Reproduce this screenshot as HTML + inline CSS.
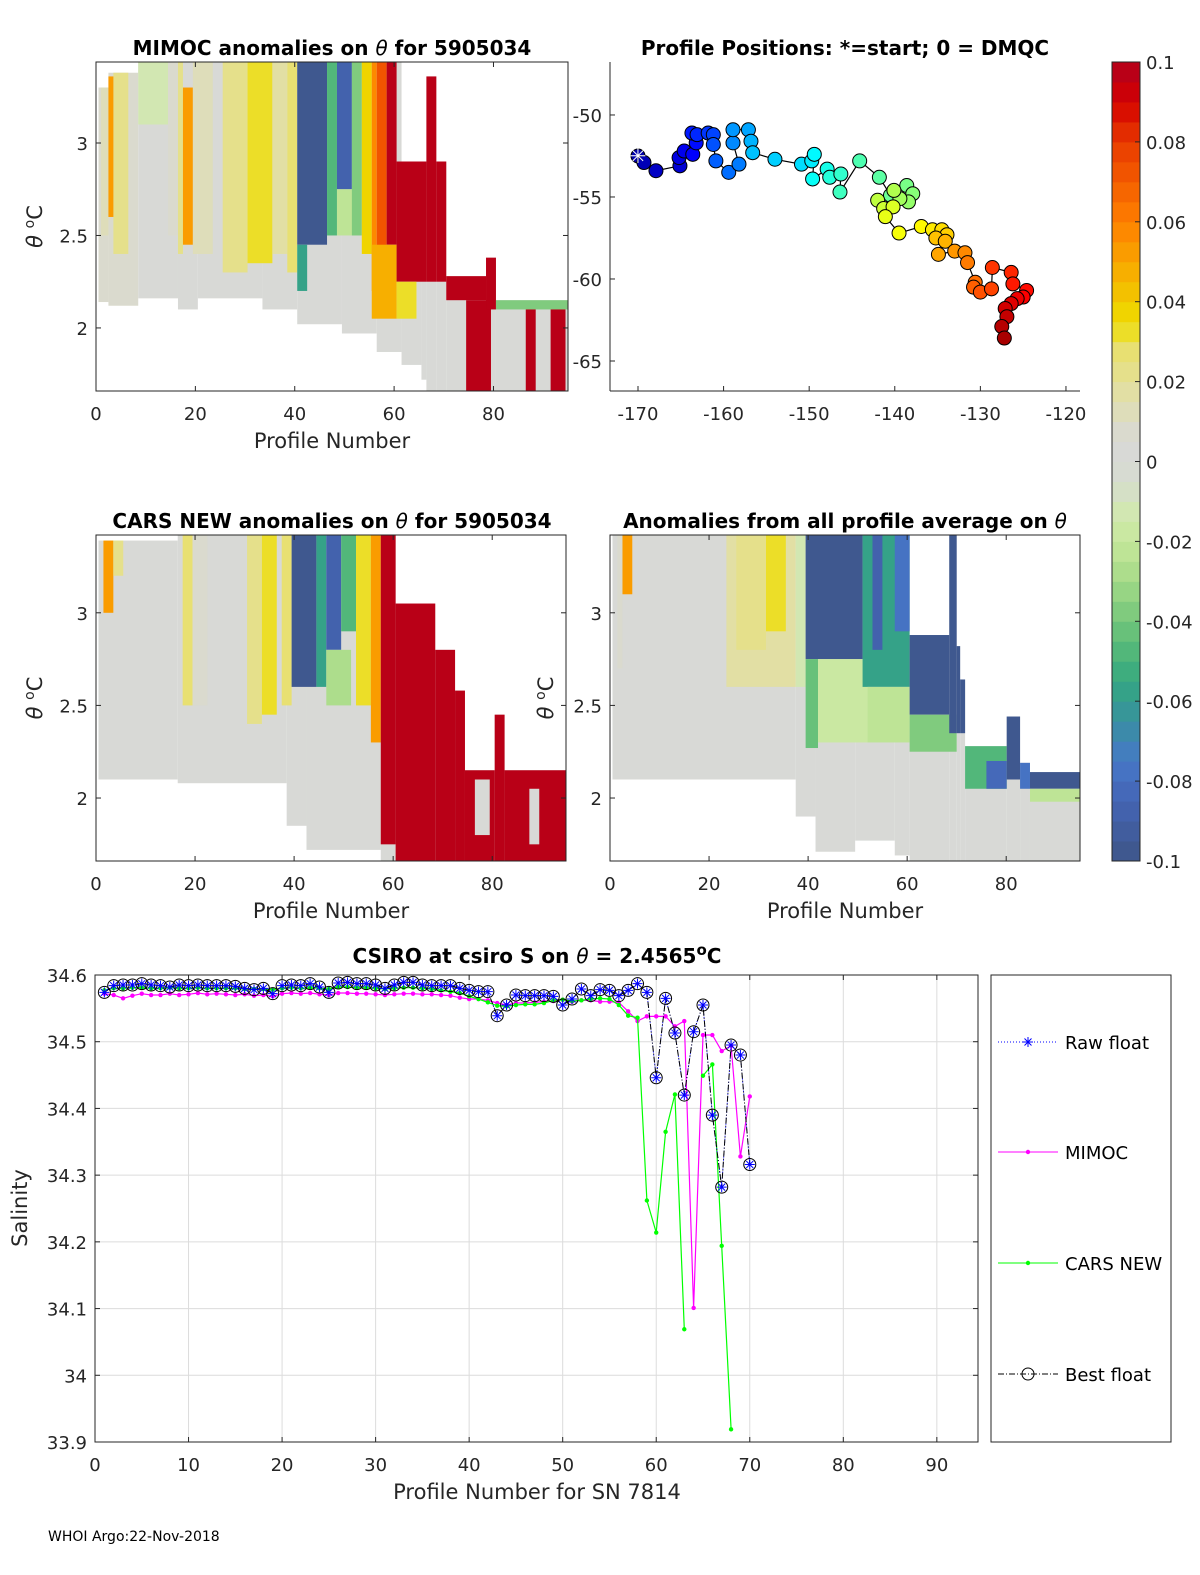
<!DOCTYPE html>
<html><head><meta charset="utf-8"><style>
html,body{margin:0;padding:0;background:#fff;}
svg{display:block;font-family:"DejaVu Sans","Liberation Sans",sans-serif;}
</style></head><body>
<svg id="fig" width="1200" height="1575" viewBox="0 0 1200 1575" xmlns="http://www.w3.org/2000/svg">
<rect width="1200" height="1575" fill="#fff"/>
<g id="p1"></g>
<g id="p2"></g>
<g id="p3"></g>
<g id="p4"></g>
<g id="cb"></g>
<g id="p5"></g>
<text x="48" y="1541" font-size="14" fill="#000">WHOI Argo:22-Nov-2018</text>
</svg>
<script>
// ---------- data ----------
// heatmap blocks: [profileStart, profileEnd, thetaTop, thetaBottom, anomaly]
const mimocBlocks = [
[0.5,2.5,3.3,2.14,0.005],[2.5,8.5,3.38,2.12,0.005],[8.5,16.5,3.44,2.16,0],[16.5,20.5,3.44,2.10,0],
[20.5,33.5,3.44,2.16,0],[33.5,40.5,3.44,2.10,0],[40.5,49.5,3.44,2.02,0],[49.5,56.5,3.44,1.97,0],
[56.5,61.5,3.44,1.87,0],[61.5,65.5,2.9,1.8,0],[65.5,66.5,2.9,1.72,0],[66.5,68.5,3.36,1.66,0],
[68.5,70.5,2.9,1.66,0],[70.5,78.5,2.28,1.66,0],[78.5,80.5,2.38,1.66,0],[80.5,95,2.15,1.66,0],
[1,2.5,3.3,2.5,0.012],[3.5,6.5,3.38,2.4,0.02],[2.5,3.5,3.36,2.6,0.055],[8.5,14.5,3.44,3.1,-0.012],
[14.5,16.5,3.44,2.5,0.005],[16.5,17.5,3.44,2.4,0.02],[17.5,19.5,3.3,2.45,0.05],[19.5,23.5,3.44,2.4,0.012],
[25.5,30.5,3.44,2.3,0.02],[30.5,35.5,3.44,2.35,0.03],[35.5,38.5,3.44,2.4,0.018],[38.5,40.5,3.44,2.3,0.028],
[40.5,46.5,3.44,2.45,-0.1],[40.5,42.5,2.45,2.2,-0.06],[46.5,48.5,3.44,2.5,-0.05],[48.5,51.5,3.44,2.75,-0.09],
[48.5,52.5,2.75,2.5,-0.02],[51.5,53.5,3.44,2.5,-0.04],[53.5,55.5,3.44,2.4,0.035],[55.5,56.5,3.44,2.2,0.06],
[56.5,58.5,3.44,2.3,0.07],[58.5,60.5,3.44,2.45,0.1],[55.5,60.5,2.45,2.05,0.045],[60.5,66.5,2.9,2.25,0.1],
[66.5,68.5,3.36,2.25,0.1],[68.5,70.5,2.9,2.25,0.1],[60.5,64.5,2.25,2.05,0.03],[70.5,78.5,2.28,2.15,0.1],
[74.5,79.5,2.15,1.66,0.1],[78.5,80.5,2.38,2.1,0.1],[80.5,95,2.15,2.1,-0.04],[86.5,88.5,2.1,1.66,0.1],
[91.5,94.5,2.1,1.66,0.1]
];
const carsBlocks = [
[0.5,16.5,3.39,2.1,0.003],[16.5,38.5,3.42,2.08,0.003],[38.5,42.5,3.42,1.85,0],[42.5,57.5,3.42,1.72,0],
[57.5,60.5,3.42,1.66,0],[60.5,68.5,3.05,1.66,0],[68.5,72.5,2.8,1.66,0],[72.5,74.5,2.58,1.66,0],
[74.5,80.5,2.15,1.66,0],[80.5,82.5,2.45,1.66,0],[82.5,95,2.15,1.66,0],
[1.5,3.5,3.39,3.0,0.05],[3.5,5.5,3.39,3.2,0.02],[17.5,19.5,3.42,2.5,0.025],[19.5,22.5,3.42,2.5,0.01],
[30.5,33.5,3.42,2.4,0.02],[33.5,36.5,3.42,2.45,0.03],[37.5,39.5,3.42,2.5,0.025],[39.5,44.5,3.42,2.6,-0.1],
[44.5,46.5,3.42,2.6,-0.06],[46.5,49.5,3.42,2.8,-0.09],[46.5,51.5,2.8,2.5,-0.03],[49.5,52.5,3.42,2.9,-0.05],
[52.5,55.5,3.42,2.5,0.03],[55.5,57.5,3.42,2.3,0.05],[57.5,60.5,3.42,1.75,0.1],[60.5,68.5,3.05,1.66,0.1],
[68.5,72.5,2.8,1.66,0.1],[72.5,74.5,2.58,1.66,0.1],[74.5,80.5,2.15,1.66,0.1],[80.5,82.5,2.45,1.66,0.1],
[82.5,95,2.15,1.66,0.1],[76.5,79.5,2.1,1.8,0.003],[87.5,89.5,2.05,1.75,0.003]
];
const allBlocks = [
[0.5,37.5,3.42,2.1,0],[37.5,41.5,3.42,1.9,0],[41.5,49.5,3.42,1.71,0],[49.5,57.5,3.42,1.77,0],
[57.5,60.5,3.42,1.69,0],[60.5,68.5,2.88,1.66,0],[68.5,70,3.42,1.66,0],[70,70.7,2.82,1.66,0],
[70.7,71.7,2.64,1.66,0],[71.7,80.1,2.28,1.66,0],[80.1,82.8,2.44,1.66,0],[82.8,84.8,2.19,1.66,0],
[84.8,95,2.14,1.66,0],
[2.5,4.5,3.42,3.1,0.05],[1.5,2.5,3.42,2.7,0.01],[23.5,37.5,3.42,2.6,0.015],[25.5,31.5,3.42,2.8,0.022],
[31.5,35.5,3.42,2.9,0.03],[37.5,39.5,3.42,2.6,-0.015],[39.5,51,3.42,2.75,-0.1],[39.5,42,2.75,2.27,-0.045],
[42,52,2.75,2.3,-0.018],[51,60.5,3.42,2.6,-0.06],[53,55,3.42,2.8,-0.09],[57.5,60.5,3.42,2.9,-0.08],
[52,60.5,2.6,2.3,-0.025],[60.5,68.5,2.88,2.45,-0.1],[60.5,70,2.45,2.25,-0.04],[68.5,70,3.42,2.35,-0.1],
[70,70.7,2.82,2.35,-0.1],[70.7,71.7,2.64,2.35,-0.1],[71.7,80.1,2.28,2.05,-0.05],[76,80.1,2.2,2.05,-0.085],
[80.1,82.8,2.44,2.1,-0.1],[82.8,84.8,2.19,2.05,-0.08],[84.8,95,2.14,2.05,-0.1],[84.8,95,2.05,1.98,-0.025]
];
// profile positions
const lons = [-170.0,-169.3,-167.9,-165.1,-165.2,-164.6,-163.6,-163.2,-163.7,-163.1,-161.8,-161.2,-161.2,-160.9,-159.4,-158.2,-158.9,-158.9,-157.1,-156.8,-156.6,-154.0,-150.9,-149.7,-149.4,-149.6,-147.9,-147.6,-146.3,-146.4,-144.1,-141.8,-140.5,-138.6,-137.9,-138.4,-139.4,-140.1,-142.0,-141.3,-140.2,-141.1,-139.5,-136.9,-135.6,-134.5,-133.9,-135.2,-134.1,-134.9,-133.0,-131.8,-131.5,-130.6,-130.8,-130.0,-128.7,-128.6,-126.4,-126.2,-124.6,-125.0,-125.7,-126.4,-127.1,-126.9,-127.5,-127.2];
const lats = [-52.5,-52.9,-53.4,-53.1,-52.6,-52.2,-52.4,-51.7,-51.1,-51.2,-51.1,-51.2,-51.8,-52.8,-53.5,-53.0,-51.7,-50.9,-50.9,-51.6,-52.3,-52.7,-53.0,-52.8,-52.4,-53.9,-53.3,-53.8,-53.6,-54.7,-52.8,-53.8,-54.9,-54.3,-54.8,-55.3,-55.1,-54.6,-55.2,-55.7,-55.6,-56.2,-57.2,-56.8,-57.0,-57.0,-57.3,-57.5,-57.7,-58.5,-58.3,-58.4,-59.0,-60.2,-60.5,-60.8,-60.6,-59.3,-59.6,-60.3,-60.7,-61.1,-61.2,-61.5,-61.8,-62.3,-62.9,-63.6];
// salinity series (profiles 1..70)
const bestFloat = [34.574,34.584,34.585,34.585,34.587,34.585,34.584,34.582,34.585,34.584,34.585,34.584,34.584,34.584,34.583,34.580,34.578,34.580,34.572,34.584,34.585,34.584,34.587,34.582,34.574,34.588,34.589,34.587,34.587,34.585,34.580,34.585,34.589,34.589,34.585,34.584,34.584,34.584,34.580,34.577,34.575,34.575,34.539,34.555,34.570,34.569,34.569,34.569,34.568,34.555,34.564,34.579,34.569,34.578,34.577,34.569,34.577,34.587,34.574,34.446,34.565,34.513,34.420,34.515,34.555,34.390,34.282,34.495,34.480,34.316];
const rawFloat = bestFloat.slice();
const mimoc = [34.572,34.570,34.565,34.569,34.572,34.570,34.570,34.572,34.570,34.571,34.573,34.571,34.572,34.571,34.570,34.571,34.569,34.570,34.568,34.572,34.573,34.572,34.573,34.571,34.570,34.573,34.573,34.572,34.572,34.571,34.570,34.571,34.572,34.572,34.571,34.571,34.570,34.569,34.566,34.564,34.564,34.562,34.558,34.555,34.558,34.558,34.559,34.560,34.561,34.563,34.560,34.562,34.562,34.560,34.560,34.559,34.5455,34.531,34.538,34.538,34.538,34.523,34.531,34.101,34.510,34.510,34.486,34.494,34.328,34.418];
const carsNew = [34.577,34.580,34.580,34.581,34.581,34.580,34.580,34.581,34.580,34.580,34.581,34.580,34.580,34.580,34.580,34.579,34.579,34.579,34.578,34.580,34.581,34.580,34.581,34.580,34.579,34.582,34.582,34.581,34.581,34.580,34.579,34.580,34.581,34.581,34.580,34.579,34.577,34.575,34.573,34.568,34.564,34.559,34.554,34.553,34.555,34.556,34.556,34.558,34.562,34.563,34.561,34.562,34.564,34.565,34.564,34.555,34.539,34.536,34.262,34.214,34.365,34.421,34.069,null,34.449,34.466,34.194,33.919];
const salTicks = [34.6,34.5,34.4,34.3,34.2,34.1,34.0,33.9];
const salTickLabels = ["34.6","34.5","34.4","34.3","34.2","34.1","34","33.9"];
const profTicks = [0,10,20,30,40,50,60,70,80,90];
const thetaTicks = [2,2.5,3];
const anomTicks = [0.1,0.08,0.06,0.04,0.02,0,-0.02,-0.04,-0.06,-0.08,-0.1];

// ---------- helpers ----------
const NS = "http://www.w3.org/2000/svg";
function mk(parent, tag, attrs, text){
  const e = document.createElementNS(NS, tag);
  for (const k in attrs) e.setAttribute(k, attrs[k]);
  if (text !== undefined) e.textContent = text;
  parent.appendChild(e); return e;
}
function lin(d0,d1,r0,r1){ return v => r0 + (v-d0)/(d1-d0)*(r1-r0); }
const stops = [[-0.1,[62,85,136]],[-0.085,[68,100,180]],[-0.075,[70,120,200]],[-0.065,[56,144,160]],[-0.055,[52,168,128]],
[-0.045,[92,188,120]],[-0.035,[140,208,128]],[-0.025,[184,226,144]],[-0.015,[208,234,168]],[-0.005,[214,220,208]],
[0.005,[216,216,216]],[0.015,[224,223,176]],[0.028,[232,224,112]],[0.035,[238,221,0]],[0.045,[245,184,0]],
[0.06,[255,128,0]],[0.08,[232,58,0]],[0.09,[212,0,0]],[0.1,[176,0,31]]];
function cmap(v){
  let lev = Math.floor((v+0.1)/0.2*40); lev = Math.max(0,Math.min(39,lev));
  const c = -0.1 + (lev+0.5)*0.005;
  for (let i=0;i<stops.length-1;i++){
    const a=stops[i], b=stops[i+1];
    if (c>=a[0] && c<=b[0]){
      const t=(c-a[0])/(b[0]-a[0]);
      return "rgb("+a[1].map((x,j)=>Math.round(x+(b[1][j]-x)*t)).join(",")+")";
    }
  }
  return c<0 ? "rgb(62,85,136)" : "rgb(176,0,31)";
}
function boxAndTicks(g, box, sx, sy, xt, yt, xl, yl, opts){
  opts = opts || {};
  if (!opts.noBox){
    const b = mk(g,"rect",{x:box.x0,y:box.y0,width:box.x1-box.x0,height:box.y1-box.y0,fill:"none",stroke:"#262626","stroke-width":1});
    
    
  }
  xt.forEach((v,i)=>{
    const x = sx(v);
    mk(g,"line",{x1:x,x2:x,y1:box.y1,y2:box.y1-5,stroke:"#262626"});
    if (!opts.noBox) mk(g,"line",{x1:x,x2:x,y1:box.y0,y2:box.y0+5,stroke:"#262626"});
    const t = mk(g,"text",{x:x,y:box.y1+29,"font-size":18,"text-anchor":"middle",fill:"#262626"}, xl[i]);
    
    
  });
  yt.forEach((v,i)=>{
    const y = sy(v);
    mk(g,"line",{x1:box.x0,x2:box.x0+5,y1:y,y2:y,stroke:"#262626"});
    if (!opts.noBox) mk(g,"line",{x1:box.x1,x2:box.x1-5,y1:y,y2:y,stroke:"#262626"});
    const t = mk(g,"text",{x:box.x0-8,y:y+7,"font-size":18,"text-anchor":"end",fill:"#262626"}, yl[i]);
    
    
  });
}
function titleWithTheta(g, x, y, before, after){
  const t = mk(g,"text",{x:x,y:y,"font-size":20,"font-weight":"bold","text-anchor":"middle",fill:"#000"});
  
  
  mk(t,"tspan",{},before);
  mk(t,"tspan",{"font-style":"italic","font-weight":"normal"},"θ");
  mk(t,"tspan",{},after);
  return t;
}
function heat(gid, box, xmax, ytop, ybot, blocks, tb, ta, titleX, ylabX){
  const g = document.getElementById(gid);
  const sx = lin(0,xmax,box.x0,box.x1), sy = lin(ytop,ybot,box.y0,box.y1);
  blocks.forEach(bk=>{
    const x0 = sx(bk[0]), x1 = sx(bk[1]), y0 = sy(bk[2]), y1 = sy(bk[3]);
    const r = mk(g,"rect",{x:x0,y:y0,width:Math.max(0,x1-x0),height:Math.max(0,y1-y0),fill:cmap(bk[4])});
    
    
  });
  boxAndTicks(g, box, sx, sy, [0,20,40,60,80], thetaTicks, ["0","20","40","60","80"], ["2","2.5","3"]);
  titleWithTheta(g, titleX, box.y0-7, tb, ta);
  const xl = mk(g,"text",{x:(box.x0+box.x1)/2,y:box.y1+57,"font-size":21,"text-anchor":"middle",fill:"#262626"},"Profile Number");
  
  
  if (ylabX){
    const cy = (box.y0+box.y1)/2;
    const yl = mk(g,"text",{x:ylabX,y:cy,"font-size":21,"text-anchor":"middle",fill:"#262626",transform:"rotate(-90 "+ylabX+" "+cy+")"});
    
    
    mk(yl,"tspan",{"font-style":"italic"},"θ");
    mk(yl,"tspan",{},"\u00a0");
    mk(yl,"tspan",{"font-size":14,dy:-8},"o");
    mk(yl,"tspan",{dy:8},"C");
  }
}
heat("p1",{x0:96,x1:568,y0:62,y1:391},95,3.438,1.659,mimocBlocks,"MIMOC anomalies on ","  for 5905034",332,42);
heat("p3",{x0:96,x1:566,y0:535,y1:861},94.9,3.42,1.66,carsBlocks,"CARS NEW anomalies on "," for 5905034",332,42);
heat("p4",{x0:610,x1:1080,y0:535,y1:861},94.9,3.42,1.66,allBlocks,"Anomalies from all profile average on ","",845,553);

// ---------- map ----------
(function(){
  const g = document.getElementById("p2");
  const box={x0:610,x1:1080,y0:62,y1:391};
  const sx = lin(-173.27,-118.36,box.x0,box.x1), sy = lin(-46.77,-66.83,box.y0,box.y1);
  let d = lons.map((v,i)=>(i?"L":"M")+sx(v).toFixed(1)+","+sy(lats[i]).toFixed(1)).join("");
  const tr = mk(g,"path",{d:d,fill:"none",stroke:"#000","stroke-width":1.2});
  
  
  const n = lons.length;
  function jet(t){
    const r = Math.max(0,Math.min(1,1.5-Math.abs(4*t-3)));
    const gg = Math.max(0,Math.min(1,1.5-Math.abs(4*t-2)));
    const b = Math.max(0,Math.min(1,1.5-Math.abs(4*t-1)));
    return "rgb("+Math.round(r*255)+","+Math.round(gg*255)+","+Math.round(b*255)+")";
  }
  lons.forEach((v,i)=>{
    const c = mk(g,"circle",{cx:sx(v),cy:sy(lats[i]),r:7,fill:jet(0.04+0.92*i/(n-1)),stroke:"#000","stroke-width":1});
    
    
  });
  const s = mk(g,"text",{x:sx(lons[0]),y:sy(lats[0])+7,"font-size":20,"text-anchor":"middle",fill:"#fff","font-weight":"bold"},"✳");
  
  
  boxAndTicks(g, box, sx, sy, [-170,-160,-150,-140,-130,-120], [-50,-55,-60,-65],
    ["-170","-160","-150","-140","-130","-120"],["-50","-55","-60","-65"],{noBox:true});
  mk(g,"line",{x1:box.x0,x2:box.x0,y1:box.y0,y2:box.y1,stroke:"#262626"});
  mk(g,"line",{x1:box.x0,x2:box.x1,y1:box.y1,y2:box.y1,stroke:"#262626"});
  const t = mk(g,"text",{x:845,y:55,"font-size":20,"font-weight":"bold","text-anchor":"middle",fill:"#000"},"Profile Positions: *=start; 0 = DMQC");
  
  
})();

// ---------- colorbar ----------
(function(){
  const g = document.getElementById("cb");
  const x0=1112,x1=1140,y0=62,y1=861;
  const sy = lin(0.1,-0.1,y0,y1);
  for (let k=0;k<40;k++){
    const v = -0.1 + (k+0.5)*0.005;
    const r = mk(g,"rect",{x:x0,y:sy(-0.1+(k+1)*0.005),width:x1-x0,height:(y1-y0)/40+0.5,fill:cmap(v)});
    
    
  }
  mk(g,"rect",{x:x0,y:y0,width:x1-x0,height:y1-y0,fill:"none",stroke:"#262626"});
  anomTicks.forEach(v=>{
    const y = sy(v);
    mk(g,"line",{x1:x1-5,x2:x1,y1:y,y2:y,stroke:"#262626"});
    const t = mk(g,"text",{x:x1+6,y:y+7,"font-size":18,fill:"#262626"}, v===0?"0":String(v));
    
    
  });
})();

// ---------- salinity ----------
(function(){
  const g = document.getElementById("p5");
  const box={x0:95,x1:978,y0:975,y1:1442};
  const sx = lin(0,94.4,box.x0,box.x1), sy = lin(34.6,33.9,box.y0,box.y1);
  profTicks.forEach(v=>{ if(v>0) mk(g,"line",{x1:sx(v),x2:sx(v),y1:box.y0,y2:box.y1,stroke:"#dcdcdc"}); });
  salTicks.forEach(v=>{ mk(g,"line",{x1:box.x0,x2:box.x1,y1:sy(v),y2:sy(v),stroke:"#dcdcdc"}); });
  function path(arr){
    let d="", pen=false;
    arr.forEach((v,i)=>{ if(v===null){pen=false;return;} d+=(pen?"L":"M")+sx(i+1).toFixed(1)+","+sy(v).toFixed(1); pen=true; });
    return d;
  }
  const lm = mk(g,"path",{d:path(mimoc),fill:"none",stroke:"#ff00ff","stroke-width":1.2});
  
  
  mimoc.forEach((v,i)=>{ if(v!==null){ const c=mk(g,"circle",{cx:sx(i+1),cy:sy(v),r:2.2,fill:"#ff00ff"});
    
     }});
  const lc = mk(g,"path",{d:path(carsNew),fill:"none",stroke:"#00ff00","stroke-width":1.2});
  
  
  carsNew.forEach((v,i)=>{ if(v!==null){ const c=mk(g,"circle",{cx:sx(i+1),cy:sy(v),r:2.2,fill:"#00ff00"});
    
     }});
  const lr = mk(g,"path",{d:path(rawFloat),fill:"none",stroke:"#0000ff","stroke-width":1,"stroke-dasharray":"1,2"});
  
  
  const lb = mk(g,"path",{d:path(bestFloat),fill:"none",stroke:"#000","stroke-width":1,"stroke-dasharray":"6,2,1,2"});
  
  
  bestFloat.forEach((v,i)=>{
    const c=mk(g,"circle",{cx:sx(i+1),cy:sy(v),r:6,fill:"none",stroke:"#000","stroke-width":1});
    
    
  });
  rawFloat.forEach((v,i)=>{
    const x=sx(i+1), y=sy(v);
    const p=mk(g,"path",{d:`M${x-5},${y}H${x+5}M${x},${y-5}V${y+5}M${x-3.5},${y-3.5}L${x+3.5},${y+3.5}M${x-3.5},${y+3.5}L${x+3.5},${y-3.5}`,stroke:"#0000ff","stroke-width":1});
    
    
  });
  boxAndTicks(g, box, sx, sy, profTicks, salTicks, profTicks.map(String), salTickLabels);
  const t = mk(g,"text",{x:537,y:963,"font-size":20,"font-weight":"bold","text-anchor":"middle",fill:"#000"});
  
  
  mk(t,"tspan",{},"CSIRO at csiro S on ");
  mk(t,"tspan",{"font-style":"italic","font-weight":"normal"},"θ");
  mk(t,"tspan",{}," = 2.4565");
  mk(t,"tspan",{"font-size":15,dy:-8},"o");
  mk(t,"tspan",{dy:8},"C");
  const xl = mk(g,"text",{x:537,y:1499,"font-size":21,"text-anchor":"middle",fill:"#262626"},"Profile Number for SN 7814");
  
  
  const yl = mk(g,"text",{x:27,y:1208,"font-size":21,"text-anchor":"middle",fill:"#262626",transform:"rotate(-90 27 1208)"},"Salinity");
  
  
  // legend
  const lg = mk(g,"g",{});
  
  
  mk(lg,"rect",{x:991,y:975,width:180,height:467,fill:"#fff",stroke:"#262626"});
  const entries = [["Raw float",1042,"#0000ff","1,2"],["MIMOC",1152,"#ff00ff",""],["CARS NEW",1263,"#00ff00",""],["Best float",1374,"#000","6,2,1,2"]];
  entries.forEach((e,i)=>{
    const eg = mk(lg,"g",{});
    
    
    mk(eg,"line",{x1:998,x2:1058,y1:e[1],y2:e[1],stroke:e[2],"stroke-width":1,"stroke-dasharray":e[3]});
    if(i===0){ mk(eg,"path",{d:"M1023,1042H1033M1028,1037V1047M1024.5,1038.5L1031.5,1045.5M1024.5,1045.5L1031.5,1038.5",stroke:"#0000ff"}); }
    if(i===1||i===2){ mk(eg,"circle",{cx:1028,cy:e[1],r:2.2,fill:e[2]}); }
    if(i===3){ mk(eg,"circle",{cx:1028,cy:e[1],r:6,fill:"none",stroke:"#000"}); }
    mk(eg,"text",{x:1065,y:e[1]+7,"font-size":18,fill:"#000"},e[0]);
  });
})();
</script>
</body></html>
